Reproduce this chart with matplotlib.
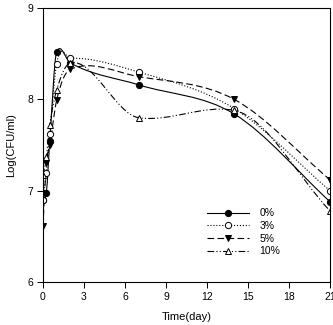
import numpy as np
import matplotlib
matplotlib.use("Agg")
import matplotlib.pyplot as plt
from matplotlib.path import Path
from matplotlib.patches import PathPatch

plt.rcParams['font.family'] = ['Liberation Sans', 'DejaVu Sans']

days = [0, 0.25, 0.5, 1, 2, 7, 14, 21]
labels = ['0%', '3%', '5%', '10%']
cfu_0 = [6.90, 6.98, 7.55, 8.52, 8.40, 8.16, 7.84, 6.88]
cfu_3 = [6.90, 7.20, 7.62, 8.39, 8.45, 8.30, 7.90, 7.00]
cfu_5 = [6.61, 7.30, 7.50, 7.99, 8.33, 8.25, 8.00, 7.12]
cfu_10 = [7.17, 7.37, 7.72, 8.10, 8.40, 7.80, 7.88, 6.78]


def smooth_path(x, y):
    # cubic Hermite curve through the points, drawn as Bezier segments
    x = np.asarray(x, float)
    y = np.asarray(y, float)
    h = np.diff(x)
    s = np.diff(y) / h
    m = np.empty_like(y)
    m[0], m[-1] = s[0], s[-1]
    for i in range(1, len(x) - 1):
        m[i] = (s[i - 1] + s[i]) / 2
        if s[i - 1] * s[i] < 0:
            m[i] *= 0.4
    verts = [(x[0], y[0])]
    codes = [Path.MOVETO]
    for i in range(len(x) - 1):
        d = h[i] / 3
        verts += [(x[i] + d, y[i] + d * m[i]),
                  (x[i + 1] - d, y[i + 1] - d * m[i + 1]),
                  (x[i + 1], y[i + 1])]
        codes += [Path.CURVE4] * 3
    return Path(verts, codes)


series = [
    (cfu_0, '-', 'o', 'black'),
    (cfu_3, ':', 'o', 'white'),
    (cfu_5, (0, (6, 3)), 'v', 'black'),
    (cfu_10, (0, (6, 2, 1, 2, 1, 2)), '^', 'white'),
]

fig = plt.figure(figsize=(3.33, 3.25), dpi=100)
ax = fig.add_axes([0.129, 0.132, 0.862, 0.843])

for (vals, ls, mk, fc), lab in zip(series, labels):
    ax.add_patch(PathPatch(smooth_path(days, vals), fill=False,
                           edgecolor='black', lw=0.8, linestyle=ls))
    ax.plot(days, vals, linestyle='none', marker=mk, ms=4.5,
            mfc=fc, mec='black', mew=0.7)
    ax.plot([], [], color='black', lw=0.8, linestyle=ls, marker=mk,
            ms=4.5, mfc=fc, mec='black', mew=0.7, label=lab)

ax.set_xlim(0, 21)
ax.set_ylim(6, 9)
ax.set_xticks([0, 3, 6, 9, 12, 15, 18, 21])
ax.set_yticks([6, 7, 8, 9])
ax.tick_params(direction='out', length=4, width=0.7, labelsize=7.5, pad=3)
for sp in ax.spines.values():
    sp.set_linewidth(0.8)

ax.set_xlabel('Time(day)', fontsize=8, labelpad=7)
ax.set_ylabel('Log(CFU/ml)', fontsize=8, labelpad=8)

ax.legend(loc='lower right', bbox_to_anchor=(0.86, 0.06), frameon=False,
          fontsize=7.5, handlelength=4.0, handletextpad=1.0,
          labelspacing=0.25)

fig.savefig('out.png', dpi=100)
